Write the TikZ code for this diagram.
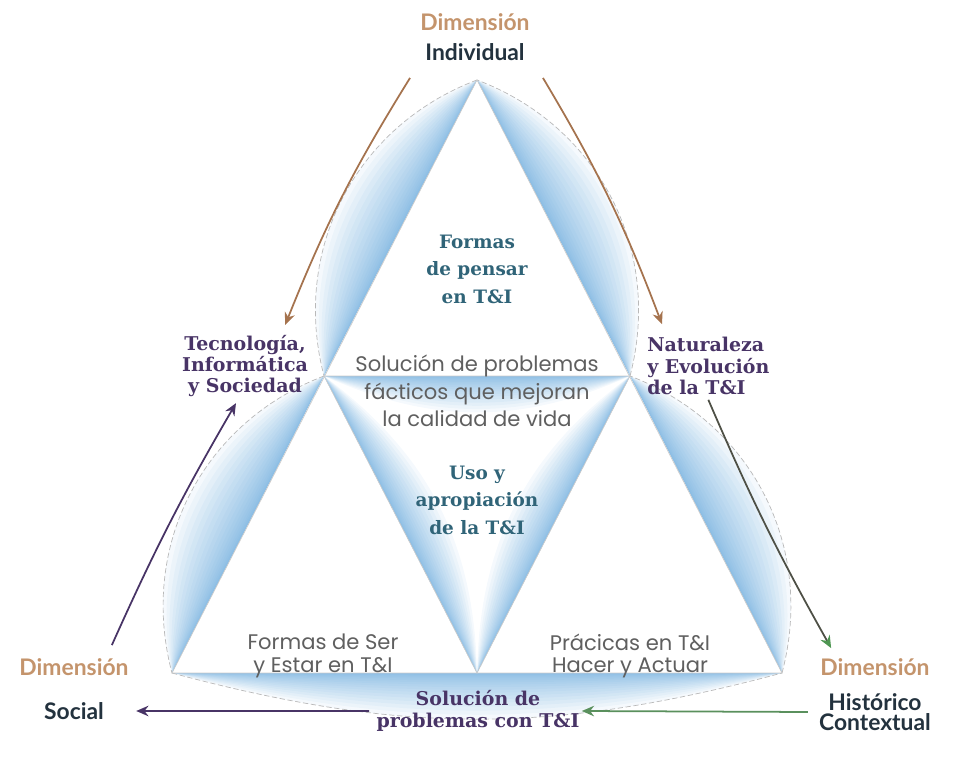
\documentclass[tikz,border=0pt]{standalone}
\usepackage{fontspec}
\setmainfont{Lato}
\newfontfamily\slabfont{DejaVu Serif}
\newfontfamily\notefont{Poppins}
\usetikzlibrary{arrows.meta, positioning}

\definecolor{dimtan}{RGB}{196,148,108}
\definecolor{dimnavy}{RGB}{35,50,62}
\definecolor{axispurple}{RGB}{72,52,102}
\definecolor{formteal}{RGB}{48,100,120}
\definecolor{notegray}{RGB}{95,95,95}
\definecolor{arrowbrown}{RGB}{165,115,78}
\definecolor{arrowgreen}{RGB}{78,150,82}
\definecolor{arrowdark}{RGB}{78,80,70}
\definecolor{lensblue}{RGB}{85,158,215}

\tikzstyle{dimword} = [text=dimtan, font=\fontsize{13}{15}\selectfont\bfseries, inner sep=0pt]
\tikzstyle{dimname} = [text=dimnavy, font=\fontsize{13}{11.6}\selectfont\bfseries, inner sep=0pt, align=center]
\tikzstyle{axislabel} = [text=axispurple, font=\slabfont\bfseries\fontsize{10.8}{12}\selectfont, inner sep=0pt]
\tikzstyle{formlabel} = [text=formteal, font=\slabfont\bfseries\fontsize{10.5}{15.6}\selectfont, inner sep=0pt, align=center]
\tikzstyle{notelabel} = [text=notegray, font=\notefont\fontsize{12}{15.8}\selectfont, inner sep=0pt, align=center]
\tikzstyle{lensfill} = [fill=lensblue, opacity=0.06, draw=none]
\tikzstyle{innerfill} = [fill=lensblue, opacity=0.058, draw=none]
\tikzstyle{lensarc} = [draw=gray!55, line width=0.4pt, dash pattern=on 3pt off 1.5pt]
\tikzstyle{chord} = [draw=gray!40, line width=0.4pt]
\tikzstyle{arrow} = [line width=1pt, -{Stealth[length=7pt, width=6pt]}]

\begin{document}
\begin{tikzpicture}[x=0.02cm, y=0.02cm]
\useasboundingbox (0,0) rectangle (974,-757);

% corners and midpoints of the big triangle
\coordinate (A) at (477,-80);
\coordinate (Lm) at (324,-376);
\coordinate (Rm) at (630,-376);
\coordinate (BL) at (172,-673);
\coordinate (Bm) at (477,-673);
\coordinate (BR) at (782,-673);

% blue lenses: outer edges bulge out
\foreach \pa/\pb/\bb in {A/Lm/42, Lm/BL/42, BL/BR/15, BR/Rm/42, Rm/A/42}
  \foreach \k in {1,...,20} {
    \pgfmathsetmacro{\bnd}{\bb*(\k/20)^2}
    \fill[lensfill] (\pa) to[bend right=\bnd] (\pb) -- cycle;
  }
% centre triangle bulges in
\foreach \pa/\pb/\bb in {Lm/Rm/24, Rm/Bm/26, Bm/Lm/26}
  \foreach \k in {1,...,20} {
    \pgfmathsetmacro{\bnd}{\bb*(\k/20)^2}
    \fill[innerfill] (\pa) to[bend right=\bnd] (\pb) -- cycle;
  }

\foreach \pa/\pb/\bb in {A/Lm/42, Lm/BL/42, BL/BR/15, BR/Rm/42, Rm/A/42}
  \draw[lensarc] (\pa) to[bend right=\bb] (\pb);
\draw[chord] (A) -- (BL) -- (BR) -- cycle;
\draw[chord] (Lm) -- (Rm) -- (Bm) -- cycle;

% dimensions
\node (dimtop) [dimword] at (475,-22) {Dimensión};
\node (indiv) [dimname, below of=dimtop, node distance=0.6cm] {Individual};
\node (dimleft) [dimword] at (74,-667) {Dimensión};
\node (social) [dimname, below of=dimleft, node distance=0.88cm] {Social};
\node (dimright) [dimword] at (875,-667) {Dimensión};
\node (historico) [dimname, below of=dimright, node distance=0.9cm] {Histórico\\Contextual};

% axes
\node (tecnologia) [axislabel, align=center] at (245,-366) {Tecnología,\\Informática\\y Sociedad};
\node (naturaleza) [axislabel, align=left, anchor=west] at (647,-366) {Naturaleza\\y Evolución\\de la T\&I};
\node (solucion) [axislabel, align=center, font=\slabfont\bfseries\fontsize{10.8}{12.5}\selectfont] at (478,-711) {Solución de\\problemas con T\&I};

% inside the triangles
\node (pensar) [formlabel] at (477,-269) {Formas\\de pensar\\en T\&I};
\node (facticos) [notelabel] at (477,-391) {Solución de problemas\\fácticos que mejoran\\la calidad de vida};
\node (uso) [formlabel] at (477,-500) {Uso y\\apropiación\\de la T\&I};
\node (ser) [notelabel, font=\notefont\fontsize{12}{12.8}\selectfont] at (323,-656) {Formas de Ser\\y Estar en T\&I};
\node (practicas) [notelabel, font=\notefont\fontsize{12}{12.8}\selectfont] at (630,-656) {Prácicas en T\&I\\Hacer y Actuar};

% arrows
\draw [arrow, arrowbrown] ([shift={(-15,-17)}]indiv.south west) to[bend right=5] ([shift={(-23,10)}]tecnologia.north east);
\draw [arrow, arrowbrown] ([shift={(18,-17)}]indiv.south east) to[bend left=5] ([shift={(15,13)}]naturaleza.north west);
\draw [arrow, arrowdark, -{Stealth[length=7pt, width=6pt, color=arrowgreen]}] ([shift={(0,-5)}]naturaleza.south) to[bend right=3] ([shift={(11,10)}]dimright.north west);
\draw [arrow, arrowgreen!75!gray] ([shift={(-11,0)}]historico.west) -- ([shift={(2,0)}]solucion.east);
\draw [arrow, axispurple] ([shift={(-7,0)}]solucion.west) -- ([shift={(32,0)}]social.east);
\draw [arrow, axispurple] ([shift={(-17,13)}]dimleft.north east) to[bend left=3] ([shift={(-9,-6)}]tecnologia.south);

\end{tikzpicture}
\end{document}
